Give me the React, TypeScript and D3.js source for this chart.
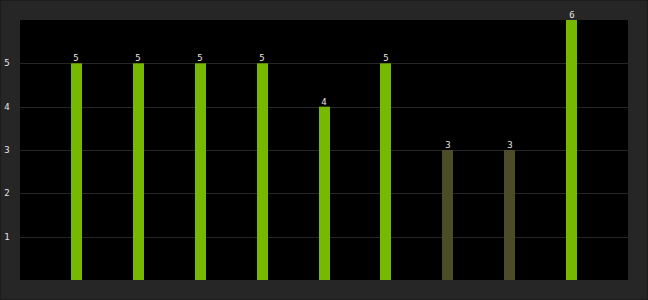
import React from "react";
import * as d3 from "d3";

const categories = ["A", "B", "C", "D", "E", "F", "G", "H", "I"];
const values = [5, 5, 5, 5, 4, 5, 3, 3, 6];
const highlight = [true, true, true, true, true, true, false, false, true];
const yTicks = [1, 2, 3, 4, 5];

const W = 648;
const H = 300;
const plot = { left: 20, right: 628, top: 20, bottom: 280 };

export default function App() {
  const x = d3
    .scalePoint<string>()
    .domain(categories)
    .range([plot.left, plot.right])
    .padding(0.91);
  const y = d3.scaleLinear().domain([0, 6]).range([plot.bottom, plot.top]);
  const bw = 11;
  const font = "'DejaVu Sans Mono', monospace";
  return (
    <svg
      width={W}
      height={H}
      style={{ position: "absolute", left: 0, top: 0, display: "block" }}
    >
      <rect x={0} y={0} width={W} height={H} fill="#1c1c1c" />
      <rect x={1} y={1} width={W - 2} height={H - 2} fill="#262626" />
      <rect
        x={plot.left}
        y={plot.top}
        width={plot.right - plot.left}
        height={plot.bottom - plot.top}
        fill="#000"
      />
      {yTicks.map((t) => (
        <g key={t}>
          <line
            x1={plot.left}
            x2={plot.right}
            y1={Math.round(y(t)) + 0.5}
            y2={Math.round(y(t)) + 0.5}
            stroke="#262626"
          />
          <text
            x={7}
            y={y(t) + 3}
            fill="#e6e6e6"
            fontSize={9}
            fontFamily={font}
            textAnchor="middle"
          >
            {t}
          </text>
        </g>
      ))}
      {categories.map((c, i) => {
        const cx = x(c)!;
        const top = y(values[i]);
        return (
          <g key={c}>
            <rect
              x={Math.round(cx - bw / 2)}
              y={top}
              width={bw}
              height={plot.bottom - top}
              fill={highlight[i] ? "#76b900" : "#4c4c29"}
            />
            <text
              x={Math.round(cx)}
              y={top - 2}
              fill="#e6e6e6"
              fontSize={9}
              fontFamily={font}
              textAnchor="middle"
            >
              {values[i]}
            </text>
          </g>
        );
      })}
    </svg>
  );
}
